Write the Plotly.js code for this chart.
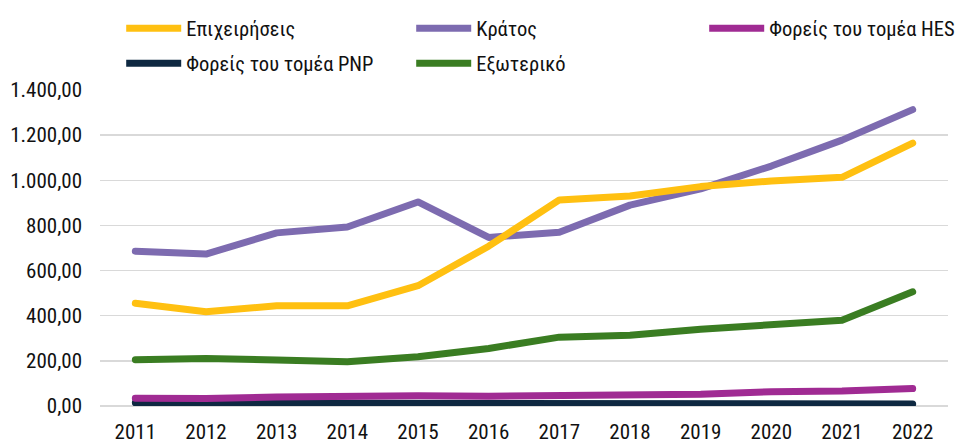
<!DOCTYPE html>
<html><head><meta charset="utf-8">
<script src="https://cdn.plot.ly/plotly-3.0.1.min.js"></script>
<style>html,body{margin:0;padding:0;background:#fff}#chart{width:962px;height:444px}</style>
</head><body><div id="chart"></div>
<script>
const years = ['2011','2012','2013','2014','2015','2016','2017','2018','2019','2020','2021','2022'];
const epixeiriseis = [455, 418, 444, 444, 533, 708, 913, 930, 972, 997, 1013, 1165];
const kratos = [686, 673, 767, 793, 904, 747, 770, 890, 962, 1063, 1178, 1313];
const hes = [34, 33, 40, 44, 45, 43, 44, 45, 52, 63, 66, 77];
const pnp = [14, 13, 12, 12, 11, 11, 11, 12, 13, 10, 9, 9];
const exoteriko = [205, 210, 204, 196, 218, 255, 305, 313, 340, 358, 380, 506];
const names = ['Επιχειρήσεις','Κράτος','Φορείς του τομέα HES','Φορείς του τομέα PNP','Εξωτερικό'];
const colors = ['#FFC011','#7D6BB0','#A02B93','#0E2841','#3A7D22'];
const series = [epixeiriseis, kratos, hes, pnp, exoteriko];
const legendOf = ['legend','legend','legend3','legend2','legend2'];
const FONT = '"Liberation Sans Narrow","Roboto Condensed","Arial Narrow","DejaVu Sans Condensed",sans-serif';

const order = [4,3,2,1,0];
const traces = order.map(i => ({
  type:'scatter', mode:'lines', x: years, y: series[i], name: names[i],
  legend: legendOf[i], legendrank: i,
  line:{color: colors[i], width: 7}
}));

const legendBase = {
  orientation:'h', xref:'paper', x:0.025, xanchor:'left', yref:'container', yanchor:'top',
  font:{family:FONT, size:20.5, color:'#111'}, itemwidth:55, entrywidth:220, entrywidthmode:'pixels',
  traceorder:'normal', bgcolor:'rgba(0,0,0,0)'
};
const layout = {
  width:962, height:444, margin:{l:100, r:14, t:89.5, b:37.5},
  paper_bgcolor:'#fff', plot_bgcolor:'#fff', separators:',.',
  font:{family:FONT, size:20, color:'#111'},
  showlegend:true,
  legend: Object.assign({}, legendBase, {y:0.981}),
  legend2: Object.assign({}, legendBase, {y:0.902}),
  legend3: Object.assign({}, legendBase, {y:0.981, x:0.7125, entrywidth:0}),
  xaxis:{type:'category', range:[-0.5,11.5], showgrid:false, zeroline:false, showline:false,
    ticks:'', tickfont:{family:FONT, size:21, color:'#111'}, ticklabelstandoff:11},
  yaxis:{range:[0,1400], dtick:200, tickformat:',.2f', showgrid:true, gridcolor:'#d9d9d9', gridwidth:1.5,
    zeroline:true, zerolinecolor:'#d9d9d9', zerolinewidth:1.5, showline:false, ticks:'',
    tickfont:{family:FONT, size:21, color:'#111'}, ticklabelstandoff:17}
};
Plotly.newPlot('chart', traces, layout, {staticPlot:true}).then(() => {
  document.querySelectorAll('.scatterlayer .js-line').forEach(p => {
    p.style.strokeLinecap = 'round'; p.style.strokeLinejoin = 'round';
  });
});
</script></body></html>
